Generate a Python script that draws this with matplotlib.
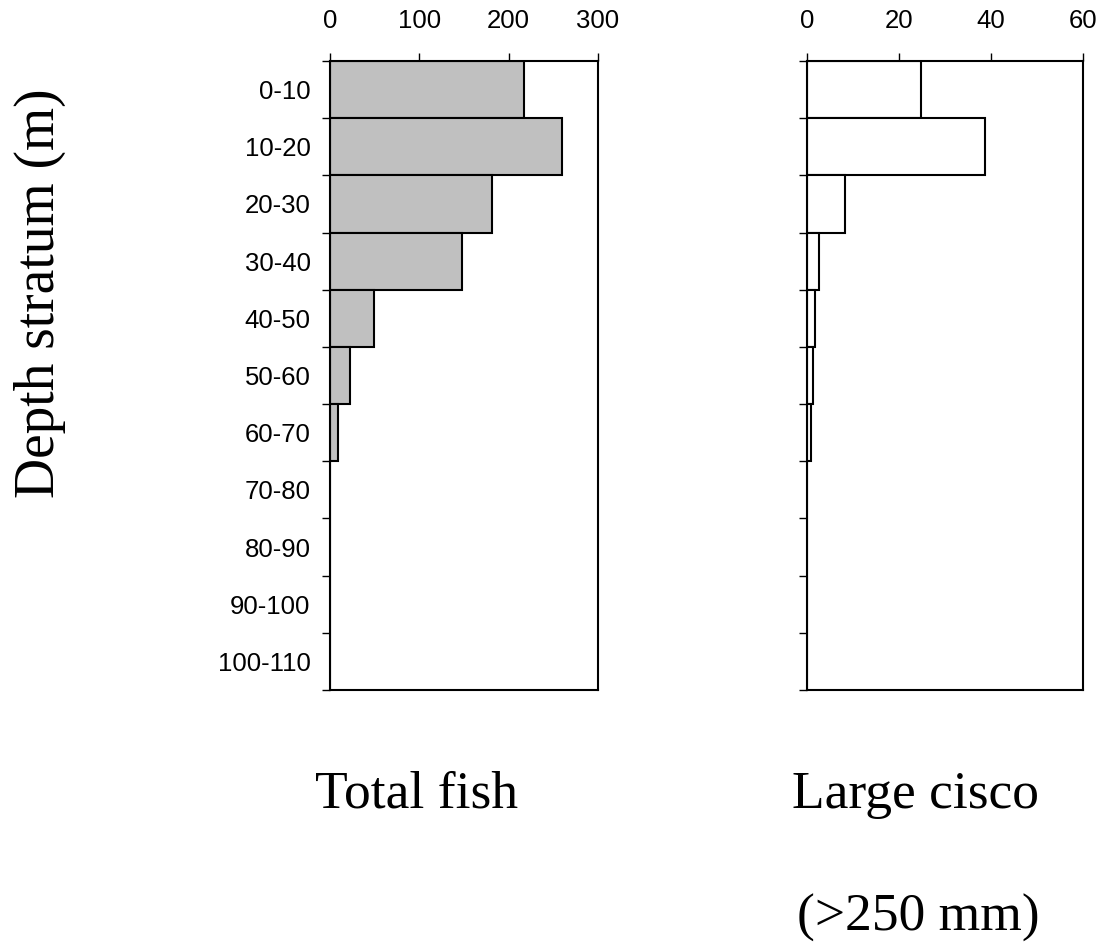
import numpy as np
from matplotlib import pyplot as plt

strata = ["0-10", "10-20", "20-30", "30-40", "40-50", "50-60", "60-70",
          "70-80", "80-90", "90-100", "100-110"]
total_fish = [217, 260, 181, 148, 49, 22, 9, 0, 0, 0, 0]
large_cisco = [24.8, 38.7, 8.3, 2.7, 1.7, 1.2, 0.8, 0, 0, 0, 0]

sans = "Liberation Sans"
serif = "Liberation Serif"

fig = plt.figure(figsize=(11.04, 9.48), dpi=100)
ax1 = fig.add_axes([330 / 1104, 258 / 948, 268 / 1104, 629 / 948])
ax2 = fig.add_axes([807 / 1104, 258 / 948, 276 / 1104, 629 / 948])

pos = np.arange(len(strata))


def style(ax, xmax, step, labels):
    ax.set_xlim(0, xmax)
    ax.set_ylim(len(strata), 0)
    ax.xaxis.tick_top()
    ax.set_xticks(np.arange(0, xmax + 1, step))
    ax.tick_params(axis="x", direction="out", length=6, width=1, pad=14,
                   labelsize=18.5)
    ax.set_yticks(np.arange(len(strata) + 1))
    ax.set_yticklabels([])
    ax.tick_params(axis="y", direction="out", length=6, width=1)
    ax.set_yticks(pos + 0.5, minor=True)
    if labels:
        ax.set_yticklabels(strata, minor=True)
    ax.tick_params(axis="y", which="minor", length=0, pad=14, labelsize=18.5)
    for lab in ax.get_xticklabels() + ax.get_yticklabels(minor=True):
        lab.set_fontfamily(sans)
    for s in ax.spines.values():
        s.set_linewidth(1.5)


ax1.barh(pos, total_fish, height=1, align="edge", color="#c0c0c0",
         edgecolor="black", linewidth=1.5)
style(ax1, 300, 100, True)

ax2.barh(pos, large_cisco, height=1, align="edge", color="white",
         edgecolor="black", linewidth=1.5)
style(ax2, 60, 20, False)

fig.text(417 / 1104, 1 - 795 / 948, "Total fish", fontsize=38.5, family=serif,
         ha="center", va="center")
fig.text(915 / 1104, 1 - 795 / 948, "Large cisco", fontsize=38.5, family=serif,
         ha="center", va="center")
fig.text(918 / 1104, 1 - 918 / 948, "(>250 mm)", fontsize=38.5, family=serif,
         ha="center", va="center")
fig.text(40 / 1104, 1 - 293 / 948, "Depth stratum (m)", fontsize=40,
         family=serif, rotation=90, ha="center", va="center")

fig.savefig("out.png", dpi=100)
